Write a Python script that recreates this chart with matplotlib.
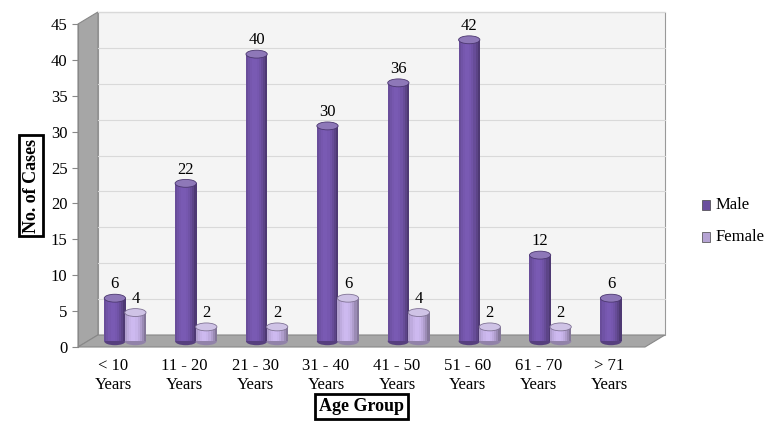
import matplotlib
matplotlib.use("Agg")
import matplotlib.pyplot as plt
import numpy as np
from matplotlib.patches import Polygon, Ellipse, Rectangle

categories = ["< 10\nYears", "11 - 20\nYears", "21 - 30\nYears", "31 - 40\nYears",
              "41 - 50\nYears", "51 - 60\nYears", "61 - 70\nYears", "> 71\nYears"]
male = [6, 22, 40, 30, 36, 42, 12, 6]
female = [4, 2, 2, 6, 4, 2, 2, 0]

plt.rcParams["font.family"] = "Liberation Serif"
fig = plt.figure(figsize=(7.81, 4.41), dpi=100)
ax = fig.add_axes([78/781, (441-347)/441, 567/781, 323/441])
ax.set_xlim(-0.5, 7.5)
ax.set_ylim(0, 45)
for s in ax.spines.values():
    s.set_visible(False)

dx, dy = 0.28, 1.67
ax.add_patch(Polygon([(-0.5+dx, dy), (7.5+dx, dy), (7.5+dx, 45+dy), (-0.5+dx, 45+dy)],
                     closed=True, fc="#f4f4f4", ec="#999999", lw=0.8, clip_on=False, zorder=0))
ax.add_patch(Polygon([(-0.5, 0), (-0.5+dx, dy), (-0.5+dx, 45+dy), (-0.5, 45)],
                     closed=True, fc="#a6a6a6", ec="#888888", lw=0.8, clip_on=False, zorder=0))
ax.add_patch(Polygon([(-0.5, 0), (7.5, 0), (7.5+dx, dy), (-0.5+dx, dy)],
                     closed=True, fc="#a6a6a6", ec="#888888", lw=0.8, clip_on=False, zorder=0))
for v in range(5, 46, 5):
    ax.plot([-0.5+dx, 7.5+dx], [v+dy, v+dy], color="#d9d9d9", lw=0.8, zorder=0.5, clip_on=False)

def cyl(xc, val, base_col, top_col, w=0.3):
    b = 0.8
    n = 10
    cols = np.array(matplotlib.colors.to_rgb(base_col))
    for i in range(n):
        t = i / (n - 1)
        shade = 0.75 + 0.5 * np.sin(np.pi * (0.15 + 0.7 * t)) - 0.25 * t
        c = np.clip(cols * shade, 0, 1)
        ax.add_patch(Rectangle((xc - w/2 + i*w/n, b), w/n + 0.002, val, fc=c, ec="none", zorder=2))
    ax.add_patch(Ellipse((xc, b), w, 1.1, fc=np.clip(cols*0.8, 0, 1), ec="none", zorder=1.9))
    ax.add_patch(Ellipse((xc, b+val), w, 1.1, fc=top_col, ec=np.clip(cols*0.7, 0, 1), lw=0.6, zorder=3))

x = np.arange(len(categories))
for i in x:
    cyl(i + 0.02, male[i], "#6b4f9e", "#8e78b8")
    ax.text(i + 0.02, male[i] + 1.6, str(male[i]), ha="center", va="bottom", fontsize=12)
    if female[i] > 0:
        cyl(i + 0.31, female[i], "#b5a3d3", "#cfc3e6")
        ax.text(i + 0.31, female[i] + 1.6, str(female[i]), ha="center", va="bottom", fontsize=12)

ax.set_yticks(range(0, 46, 5))
ax.set_xticks(x)
ax.set_xticklabels(categories, fontsize=12)
ax.tick_params(axis="y", labelsize=12, length=4, color="#888888")
ax.tick_params(axis="x", length=0, pad=8)
ax.plot([-0.5, -0.5], [0, 45], color="#888888", lw=0.8, clip_on=False)

ax.set_ylabel("No. of Cases", fontsize=13, fontweight="bold",
              bbox=dict(boxstyle="square,pad=0.2", fc="white", ec="black", lw=2), labelpad=8)
ax.set_xlabel("Age Group", fontsize=13, fontweight="bold",
              bbox=dict(boxstyle="square,pad=0.2", fc="white", ec="black", lw=2), labelpad=4)

fig.patches.append(Rectangle((702/781, 1-210/441), 8/781, 10/441, transform=fig.transFigure, fc="#6b4f9e", ec="#444444", lw=0.5))
fig.patches.append(Rectangle((702/781, 1-242/441), 8/781, 10/441, transform=fig.transFigure, fc="#b5a3d3", ec="#444444", lw=0.5))
fig.text(716/781, 1-205/441, "Male", fontsize=12, va="center")
fig.text(716/781, 1-237/441, "Female", fontsize=12, va="center")

fig.savefig("out.png", dpi=100)
